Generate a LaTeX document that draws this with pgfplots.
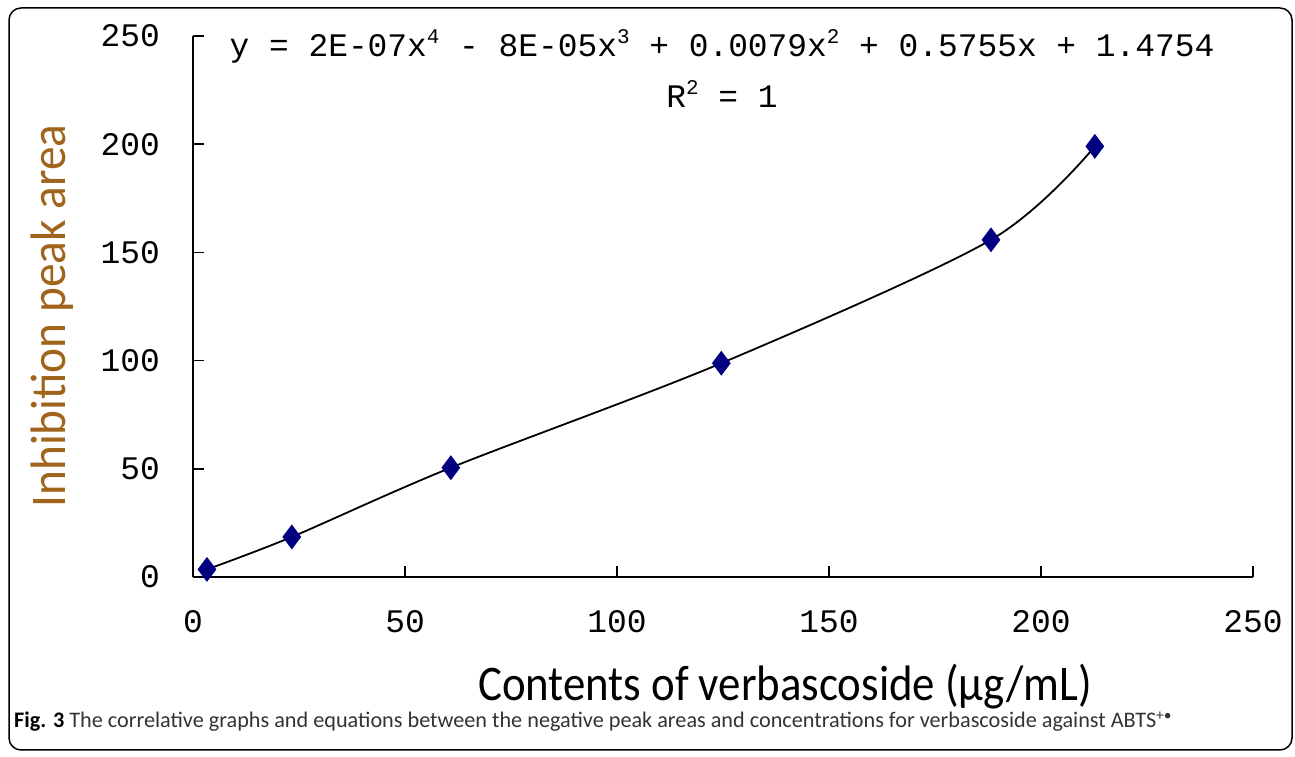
\documentclass[border=0pt]{standalone}
\usepackage{pgfplots}
\pgfplotsset{compat=1.18}
\usepackage{fontspec}
\setmainfont{Carlito}
\newfontfamily\monofont{Liberation Mono}
\newfontfamily\xlabfont[FakeStretch=0.90]{Carlito}
\newfontfamily\ylabfont[FakeStretch=0.95]{Carlito}
\definecolor{navyc}{RGB}{0,0,128}
\definecolor{ylabc}{RGB}{160,100,28}
\definecolor{capc}{RGB}{51,51,51}
\begin{document}
\begin{tikzpicture}[x=1bp,y=1bp]
\useasboundingbox (0,0) rectangle (1295,757);
\draw[line width=1.5bp, rounded corners=12bp] (9,7) rectangle (1292,749);
\begin{axis}[
  at={(193bp,180bp)}, anchor=south west,
  scale only axis, width=1060bp, height=541bp,
  xmin=0, xmax=250, ymin=0, ymax=250,
  axis x line=bottom, axis y line=left,
  axis line style={-, line width=1.8bp, black},
  every tick/.style={line width=1.5bp, black},
  major tick length=11bp, tick align=inside,
  xtick={0,50,...,250}, ytick={0,50,...,250},
  tick label style={font=\fontsize{33}{33}\selectfont\monofont, inner sep=0pt},
  /pgf/number format/assume math mode=true,
  yticklabel shift=33bp, xticklabel shift=33bp,
  clip=false,
]
\addplot[black, line width=1.8bp, smooth, tension=0.5,
  mark=diamond*, mark size=11bp, mark options={navyc, fill=navyc, draw=navyc}]
  coordinates {(3.3,3.5) (23.3,18.5) (60.8,50.5) (124.6,98.8) (188.2,155.8) (212.7,199)};
\end{axis}
\node[font=\fontsize{33}{33}\selectfont\monofont, anchor=base] at (722,700)
  {y = 2E-07x\raisebox{0.42em}{\fontsize{21}{21}\selectfont 4} - 8E-05x\raisebox{0.42em}{\fontsize{21}{21}\selectfont 3} + 0.0079x\raisebox{0.42em}{\fontsize{21}{21}\selectfont 2} + 0.5755x + 1.4754};
\node[font=\fontsize{33}{33}\selectfont\monofont, anchor=base] at (722,649)
  {R\raisebox{0.42em}{\fontsize{21}{21}\selectfont 2} = 1};
\node[font=\fontsize{50}{50}\selectfont\xlabfont, anchor=base] at (785,56)
  {Contents of verbascoside (μg/mL)};
\node[font=\fontsize{50}{50}\selectfont\ylabfont, anchor=base, rotate=90, text=ylabc] at (65,441)
  {Inhibition peak area};
\node[font=\fontsize{22.3}{22.3}\selectfont, anchor=base west, text=capc, inner sep=0pt] at (14,29)
  {\textbf{\color{black}Fig. 3} The correlative graphs and equations between the negative peak areas and concentrations for verbascoside against ABTS\textsuperscript{+\textbullet}};
\end{tikzpicture}
\end{document}
